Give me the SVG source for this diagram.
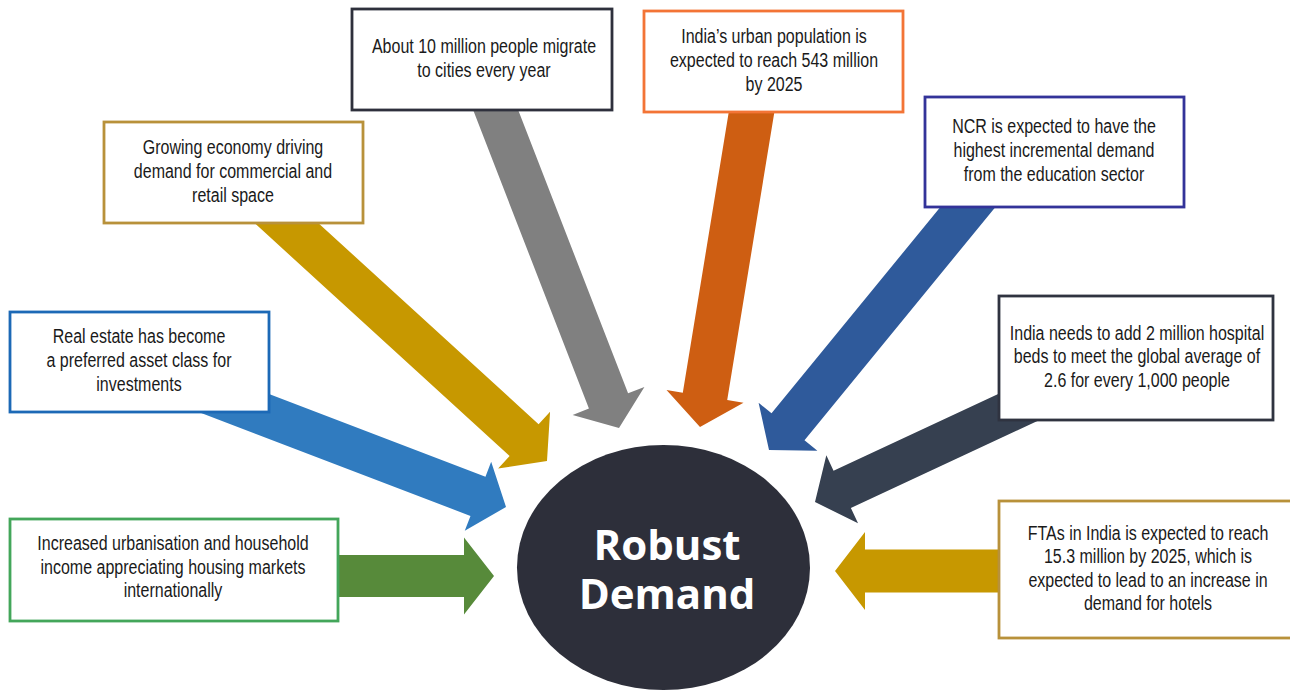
<svg xmlns="http://www.w3.org/2000/svg" width="1290" height="691" viewBox="0 0 1290 691">
<style>
.box{fill:#fff;stroke-width:2.8}
.t{font-family:"Liberation Sans",Arial,sans-serif;font-size:20px;fill:#1a1a1a;text-anchor:middle}
.c{font-family:"Open Sans","DejaVu Sans",sans-serif;font-weight:bold;font-size:42px;fill:#fff;text-anchor:middle}
</style>
<rect width="1290" height="691" fill="#fff"/>
<g id="connectors">
<path fill="#578A3A" transform="translate(494,576) rotate(0)" d="M-194,-21 L-30,-21 L-30,-38.5 L0,0 L-30,38.5 L-30,21 L-194,21 Z"/>
<path fill="#307BBF" transform="translate(506,507) rotate(20.9)" d="M-340,-21 L-30,-21 L-30,-37 L0,0 L-30,37 L-30,21 L-340,21 Z"/>
<path fill="#C79800" transform="translate(547,461) rotate(42.4)" d="M-400,-21.5 L-31,-21.5 L-31,-38.5 L0,0 L-31,38.5 L-31,21.5 L-400,21.5 Z"/>
<path fill="#808080" transform="translate(619,428) rotate(68.8)" d="M-380,-21 L-29,-21 L-29,-38.5 L0,0 L-29,38.5 L-29,21 L-380,21 Z"/>
<path fill="#CE5E12" transform="translate(700,427) rotate(99.3)" d="M-380,-22.5 L-31,-22.5 L-31,-39 L0,0 L-31,39 L-31,22.5 L-380,22.5 Z"/>
<path fill="#2F5A9B" transform="translate(769,450) rotate(129.3)" d="M-380,-21.3 L-30,-21.3 L-30,-38 L0,0 L-30,38 L-30,21.3 L-380,21.3 Z"/>
<path fill="#364050" transform="translate(815,502) rotate(155)" d="M-380,-20.5 L-30,-20.5 L-30,-37.5 L0,0 L-30,37.5 L-30,20.5 L-380,20.5 Z"/>
<path fill="#C79800" transform="translate(835,571) rotate(180)" d="M-215,-21.5 L-30,-21.5 L-30,-39 L0,0 L-30,39 L-30,21.5 L-215,21.5 Z"/>
</g>
<g id="center">
<ellipse cx="663.5" cy="567.5" rx="146.5" ry="122.5" fill="#2D2F3A"/>
<text class="c" x="667" y="560">Robust</text>
<text class="c" x="667" y="609">Demand</text>
</g>
<g id="n-urbanisation">
<rect class="box" x="10" y="519" width="328" height="102" stroke="#43A65A"/>
<g transform="translate(173 0) scale(0.8 1)">
<text class="t" x="0" y="550">Increased urbanisation and household</text>
<text class="t" x="0" y="574">income appreciating housing markets</text>
<text class="t" x="0" y="597">internationally</text>
</g>
</g>
<g id="n-realestate">
<rect class="box" x="10" y="312" width="259" height="100" stroke="#1C69B6"/>
<g transform="translate(139 0) scale(0.8 1)">
<text class="t" x="0" y="343">Real estate has become</text>
<text class="t" x="0" y="367">a preferred asset class for</text>
<text class="t" x="0" y="391">investments</text>
</g>
</g>
<g id="n-economy">
<rect class="box" x="104" y="122" width="259" height="101" stroke="#B8913A"/>
<g transform="translate(233 0) scale(0.8 1)">
<text class="t" x="0" y="154">Growing economy driving</text>
<text class="t" x="0" y="178">demand for commercial and</text>
<text class="t" x="0" y="202">retail space</text>
</g>
</g>
<g id="n-migrate">
<rect class="box" x="352" y="9" width="260" height="101" stroke="#2E303C"/>
<g transform="translate(484 0) scale(0.8 1)">
<text class="t" x="0" y="53">About 10 million people migrate</text>
<text class="t" x="0" y="77">to cities every year</text>
</g>
</g>
<g id="n-urban">
<rect class="box" x="644" y="11" width="259" height="101" stroke="#F37436"/>
<g transform="translate(774 0) scale(0.8 1)">
<text class="t" x="0" y="43">India’s urban population is</text>
<text class="t" x="0" y="67">expected to reach 543 million</text>
<text class="t" x="0" y="91">by 2025</text>
</g>
</g>
<g id="n-ncr">
<rect class="box" x="925" y="97" width="259" height="110" stroke="#333399"/>
<g transform="translate(1054 0) scale(0.8 1)">
<text class="t" x="0" y="133">NCR is expected to have the</text>
<text class="t" x="0" y="157">highest incremental demand</text>
<text class="t" x="0" y="181">from the education sector</text>
</g>
</g>
<g id="n-hospital">
<rect class="box" x="999" y="296" width="274" height="124" stroke="#2F3340"/>
<g transform="translate(1137 0) scale(0.8 1)">
<text class="t" x="0" y="340">India needs to add 2 million hospital</text>
<text class="t" x="0" y="363">beds to meet the global average of</text>
<text class="t" x="0" y="387">2.6 for every 1,000 people</text>
</g>
</g>
<g id="n-fta">
<rect class="box" x="999" y="501" width="298" height="137" stroke="#B8913A"/>
<g transform="translate(1148 0) scale(0.8 1)">
<text class="t" x="0" y="540">FTAs in India is expected to reach</text>
<text class="t" x="0" y="563">15.3 million by 2025, which is</text>
<text class="t" x="0" y="587">expected to lead to an increase in</text>
<text class="t" x="0" y="610">demand for hotels</text>
</g>
</g>
</svg>
